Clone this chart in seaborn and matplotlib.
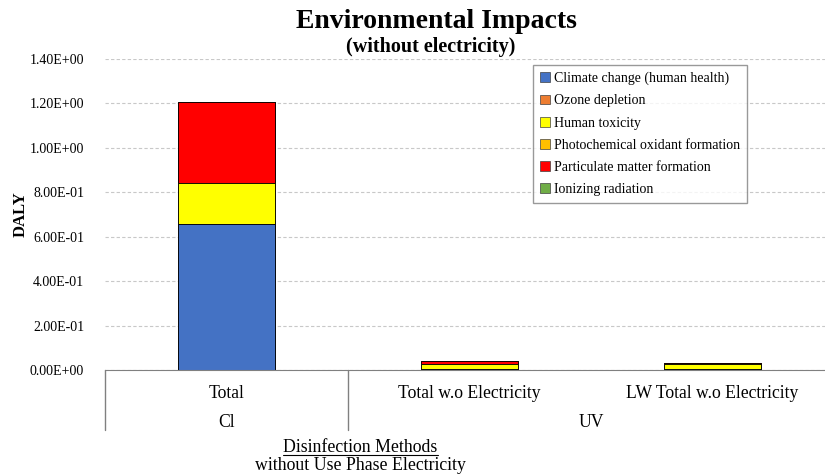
import numpy as np
import pandas as pd
import seaborn as sns
import matplotlib.pyplot as plt
from matplotlib.patches import Patch
from matplotlib.lines import Line2D

# categories (level 1 and level 2 of the x axis)
bars = ["Total", "Total w.o Electricity", "LW Total w.o Electricity"]
groups = ["Cl", "UV"]
group_span = [(0, 0), (1, 2)]

impacts = ["Climate change (human health)", "Ozone depletion", "Human toxicity",
           "Photochemical oxidant formation", "Particulate matter formation",
           "Ionizing radiation"]
colors = ["#4472C4", "#ED7D31", "#FFFF00", "#FFC000", "#FF0000", "#70AD47"]

# DALY values per impact for each bar
climate = [0.655, 0.006, 0.004]
ozone = [0.0, 0.0, 0.0]
toxicity = [0.185, 0.022, 0.022]
photochem = [0.001, 0.0005, 0.0005]
particulate = [0.365, 0.010, 0.003]
ionizing = [0.0, 0.0005, 0.0005]

values = np.array([climate, ozone, toxicity, photochem, particulate, ionizing])
cum = values.cumsum(axis=0)

sns.set_style("white")
plt.rcParams['font.family'] = ['Liberation Serif', 'DejaVu Serif']
plt.rcParams.update({"text.color": "black", "axes.labelcolor": "black",
                     "xtick.color": "black", "ytick.color": "black"})

fig = plt.figure(figsize=(8.25, 4.75), dpi=100)
ax = fig.add_axes([0.1273, 0.221, 0.8836, 0.655])

# stacked bars by overlapping cumulative totals (top layer first)
for i in range(len(impacts) - 1, -1, -1):
    df = pd.DataFrame({"bar": bars, "val": cum[i]})
    sns.barplot(data=df, x="bar", y="val", color=colors[i], saturation=1,
                width=0.40, edgecolor="black", linewidth=0.6, ax=ax)

ax.set_xlim(-0.5, 2.5)
ax.set_ylim(0, 1.4)
ax.set_yticks(np.arange(0, 1.41, 0.2))
ax.set_yticklabels([f"{v:.2E}" for v in np.arange(0, 1.41, 0.2)], fontsize=10)
ax.yaxis.grid(True, linestyle=(0, (3, 2)), color="#c8c8c8", linewidth=0.8)
ax.set_axisbelow(True)
for s in ["left", "right", "top"]:
    ax.spines[s].set_visible(False)
ax.spines["bottom"].set_color("#808080")
ax.tick_params(axis="y", length=0, pad=15)
ax.tick_params(axis="x", length=0, pad=11, labelsize=12.7)
ax.set_xlabel("")
ax.set_ylabel("DALY", fontsize=12, fontweight="bold", labelpad=1)

# second level of the category axis
trans = ax.get_xaxis_transform()
for g, (a, b) in zip(groups, group_span):
    ax.text((a + b) / 2, -0.168, g, transform=trans, ha="center", va="center", fontsize=12.7)
for xs in [-0.5, 0.5]:
    ax.add_line(Line2D([xs, xs], [0, -0.193], transform=trans, color="#808080",
                       linewidth=1, clip_on=False))

# legend
handles = [Patch(facecolor=c, edgecolor="#404040", linewidth=0.5) for c in colors]
leg = ax.legend(handles, impacts, loc="upper left", bbox_to_anchor=(0.587, 0.981),
                borderaxespad=0, fontsize=10, frameon=True, fancybox=False,
                edgecolor="#808080", handlelength=0.7, handleheight=0.7,
                handletextpad=0.3, labelspacing=0.66, borderpad=0.5)
leg.get_frame().set_linewidth(1)

# titles
fig.text(0.529, 0.955, "Environmental Impacts", ha="center", va="center",
         fontsize=20, fontweight="bold")
fig.text(0.522, 0.902, "(without electricity)", ha="center", va="center",
         fontsize=14.5, fontweight="bold")

# axis title, first line underlined
t1 = fig.text(0.437, 0.057, "Disinfection Methods", ha="center", va="center", fontsize=12.8)
fig.text(0.437, 0.021, "without Use Phase Electricity", ha="center", va="center", fontsize=12.8)
fig.canvas.draw()
bb = t1.get_window_extent().transformed(fig.transFigure.inverted())
fig.add_artist(Line2D([bb.x0, bb.x1], [bb.y0 + 0.004, bb.y0 + 0.004], color="black",
                      linewidth=0.8, transform=fig.transFigure))

fig.savefig("out.png", dpi=100)
